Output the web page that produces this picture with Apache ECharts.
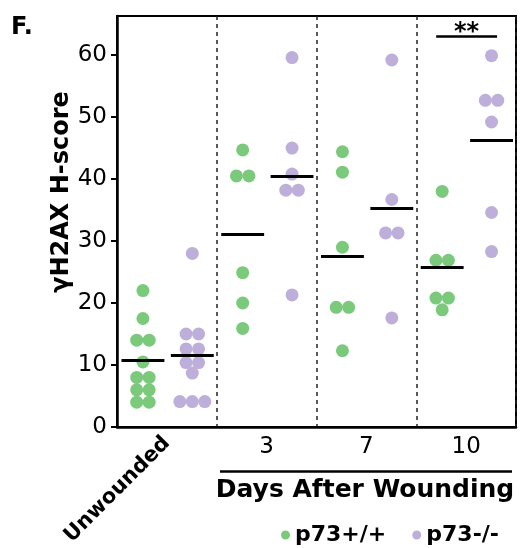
<!DOCTYPE html>
<html><head><meta charset="utf-8">
<script src="https://cdn.jsdelivr.net/npm/echarts@6/dist/echarts.min.js"></script>
<style>html,body{margin:0;padding:0;background:#fff}#c{width:524px;height:548px}</style>
</head><body><div id="c"></div>
<script>
// ---- data ----
const categories = ['Unwounded', '3', '7', '10'];
const seriesNames = ['p73+/+', 'p73-/-'];
const wtValues = [
  [22, 17.5, 14, 14, 10.5, 8, 8, 6, 6, 4, 4],
  [44.7, 40.5, 40.5, 24.9, 20.0, 15.9],
  [44.4, 41.1, 29.0, 19.3, 19.3, 12.3],
  [38.0, 26.9, 26.9, 20.8, 20.8, 18.9]
];
const koValues = [
  [28.0, 15, 15, 12.6, 12.6, 10.4, 10.4, 8.7, 4.1, 4.1, 4.1],
  [59.6, 45.0, 40.8, 38.2, 38.2, 21.3],
  [59.2, 36.7, 31.3, 31.3, 17.6],
  [59.9, 52.7, 52.7, 49.2, 34.6, 28.3]
];
const wtMeans = [10.7, 31.1, 27.5, 25.7];
const koMeans = [11.5, 40.5, 35.3, 46.3];
const yTicks = [0, 10, 20, 30, 40, 50, 60];
const sigGroup = 3;
const sigLabel = '**';
const sigLevel = 63.1;

// ---- styling / layout ----
const FONT = '"DejaVu Sans", sans-serif';
const GREEN = '#7bca7c';
const PURPLE = '#beafda';
const OFFS = [-0.24, 0.255];
const SPREAD = 0.125;
const HALF = 0.215;

function points(groups, side) {
  const out = [];
  groups.forEach((vals, gi) => {
    const counts = {};
    vals.forEach(v => { counts[v] = (counts[v] || 0) + 1; });
    const seen = {};
    vals.forEach(v => {
      const n = counts[v];
      const k = seen[v] = (seen[v] === undefined ? 0 : seen[v] + 1);
      const x = gi + 0.5 + OFFS[side] + (k - (n - 1) / 2) * SPREAD;
      out.push([x, v]);
    });
  });
  return out;
}
function meanLines(means, side) {
  return means.map((m, i) => {
    const c = i + 0.5 + OFFS[side];
    return [{coord: [c - HALF, m]}, {coord: [c + HALF, m]}];
  });
}

const chart = echarts.init(document.getElementById('c'), null, {renderer: 'canvas'});
chart.setOption({
  animation: false,
  backgroundColor: '#fff',
  textStyle: {fontFamily: FONT},
  grid: {left: 117, top: 16, right: 8, bottom: 121, show: true, borderColor: '#000', borderWidth: 2,
         containLabel: false, outerBoundsMode: 'none'},
  legend: {
    data: seriesNames, left: 276, top: 519, icon: 'circle', itemWidth: 9, itemHeight: 9, itemGap: 26,
    textStyle: {fontSize: 22, fontWeight: 'bold', color: '#000', fontFamily: FONT}
  },
  xAxis: [
    {
      type: 'category', data: categories, position: 'bottom', boundaryGap: true,
      axisLine: {lineStyle: {color: '#000', width: 2.5}},
      axisTick: {alignWithLabel: true, length: 6, lineStyle: {color: '#000', width: 2}},
      splitLine: {show: true, lineStyle: {color: '#222', width: 1.5, type: [4, 4]}},
      axisLabel: {interval: 0, rotate: 45, margin: 13, fontSize: 21, fontWeight: 'bold', color: '#000',
                  fontFamily: FONT, formatter: (v, i) => i === 0 ? v : ''}
    },
    {
      type: 'category', data: categories, position: 'bottom', offset: 0,
      axisLine: {show: false}, axisTick: {show: false}, splitLine: {show: false},
      axisLabel: {interval: 0, margin: 9, fontSize: 23, color: '#000', fontFamily: FONT,
                  formatter: (v, i) => i === 0 ? '' : v}
    },
    {type: 'value', min: 0, max: 4, show: false}
  ],
  yAxis: {
    type: 'value', min: 0, max: 66.3, interval: 10,
    axisLine: {show: true, lineStyle: {color: '#000', width: 2.5}},
    axisTick: {show: true, length: 6, lineStyle: {color: '#000', width: 2}, customValues: yTicks},
    axisLabel: {customValues: yTicks, fontSize: 23, color: '#000', margin: 10, fontFamily: FONT},
    splitLine: {show: false}
  },
  series: [
    {
      name: seriesNames[0], type: 'scatter', xAxisIndex: 2, symbolSize: 13,
      itemStyle: {color: GREEN, opacity: 1}, data: points(wtValues, 0), z: 3,
      markLine: {silent: true, symbol: ['none', 'none'], label: {show: false},
                 lineStyle: {color: '#000', width: 3, type: 'solid'}, data: meanLines(wtMeans, 0)}
    },
    {
      name: seriesNames[1], type: 'scatter', xAxisIndex: 2, symbolSize: 13,
      itemStyle: {color: PURPLE, opacity: 1}, data: points(koValues, 1), z: 3,
      markLine: {silent: true, symbol: ['none', 'none'], label: {show: false},
                 lineStyle: {color: '#000', width: 3, type: 'solid'}, data: meanLines(koMeans, 1)}
    },
    {
      name: 'sig', type: 'scatter', xAxisIndex: 2, data: [],
      markLine: {silent: true, symbol: ['none', 'none'],
                 label: {show: true, position: 'middle', formatter: sigLabel, fontSize: 24, fontWeight: 'bold',
                         color: '#000', fontFamily: FONT, distance: -9},
                 lineStyle: {color: '#000', width: 2.5, type: 'solid'},
                 data: [[{coord: [sigGroup + 0.2, sigLevel]}, {coord: [sigGroup + 0.81, sigLevel]}]]}
    }
  ],
  graphic: [
    {type: 'text', left: 11, top: 16, style: {text: 'F.', font: 'bold 24px ' + FONT, fill: '#000'}},
    {type: 'text', x: 62, y: 192, rotation: Math.PI / 2,
     style: {text: 'γH2AX H-score', font: 'bold 24px ' + FONT, fill: '#000',
             align: 'center', verticalAlign: 'middle', textAlign: 'center', textVerticalAlign: 'middle'}},
    {type: 'line', shape: {x1: 220, y1: 471.5, x2: 512, y2: 471.5}, style: {stroke: '#000', lineWidth: 2.5}},
    {type: 'text', x: 365, y: 490,
     style: {text: 'Days After Wounding', font: 'bold 25px ' + FONT, fill: '#000',
             align: 'center', verticalAlign: 'middle', textAlign: 'center', textVerticalAlign: 'middle'}}
  ]
});
</script>
</body></html>
